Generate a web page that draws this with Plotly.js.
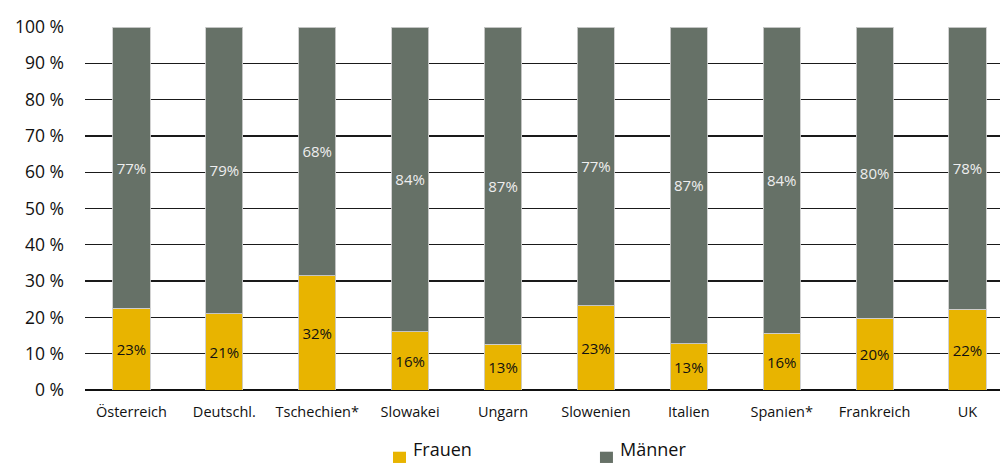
<!DOCTYPE html>
<html>
<head>
<meta charset="utf-8">
<script src="https://cdn.plot.ly/plotly-3.0.1.min.js"></script>
<style>html,body{margin:0;padding:0;background:#fff;}#chart{width:1000px;height:463px;}</style>
</head>
<body>
<div id="chart"></div>
<script>
const categories = ["Österreich", "Deutschl.", "Tschechien*", "Slowakei", "Ungarn", "Slowenien", "Italien", "Spanien*", "Frankreich", "UK"];
const frauen = [22.5, 21, 31.5, 16, 12.6, 23.2, 12.7, 15.7, 19.8, 22.2];
const maenner = [77.5, 79, 68.5, 84, 87.4, 76.8, 87.3, 84.3, 80.2, 77.8];
const frauenLabels = ["23%", "21%", "32%", "16%", "13%", "23%", "13%", "16%", "20%", "22%"];
const maennerLabels = ["77%", "79%", "68%", "84%", "87%", "77%", "87%", "84%", "80%", "78%"];
const yTicks = [0, 10, 20, 30, 40, 50, 60, 70, 80, 90, 100];
const yTickText = ["0 %", "10 %", "20 %", "30 %", "40 %", "50 %", "60 %", "70 %", "80 %", "90 %", "100 %"];
const seriesNames = ["Frauen", "Männer"];

const FONT = "Open Sans, DejaVu Sans, sans-serif";
const colF = "#E8B400";
const colM = "#667167";

const traces = [
  {type: "bar", name: seriesNames[0], x: categories, y: frauen, text: frauenLabels,
   textposition: "inside", insidetextanchor: "middle", textangle: 0,
   textfont: {family: FONT, size: 15, color: "#111"},
   marker: {color: colF, line: {color: "rgba(205,205,205,0.9)", width: 1}},
   hoverinfo: "x+y", showlegend: false},
  {type: "bar", name: seriesNames[1], x: categories, y: maenner, text: maennerLabels,
   textposition: "inside", insidetextanchor: "middle", textangle: 0,
   textfont: {family: FONT, size: 15, color: "#eeeeee"},
   marker: {color: colM, line: {color: "rgba(205,205,205,0.9)", width: 1}},
   hoverinfo: "x+y", showlegend: false}
];

const layout = {
  width: 1000, height: 463,
  margin: {l: 85, r: 0, t: 27, b: 73},
  barmode: "stack", bargap: 0.6,
  paper_bgcolor: "#fff", plot_bgcolor: "#fff",
  font: {family: FONT, color: "#111"},
  xaxis: {range: [-0.5, 9.35], showgrid: false, showline: false, ticks: "",
          tickfont: {family: FONT, size: 14.5, color: "#111"}, ticklabelstandoff: 11, fixedrange: true},
  yaxis: {range: [0, 100], tickmode: "array", tickvals: yTicks, ticktext: yTickText, showgrid: true,
          gridcolor: "#1a1a1a", gridwidth: 1.3, zeroline: true, zerolinecolor: "#111", zerolinewidth: 1.6,
          ticks: "", tickfont: {family: FONT, size: 17.5, color: "#111"}, ticklabelstandoff: 20, fixedrange: true},
  shapes: [
    {type: "rect", xref: "paper", yref: "paper", x0: 0.3366, x1: 0.3508, y0: -0.17, y1: -0.201, fillcolor: colF, line: {width: 0}},
    {type: "rect", xref: "paper", yref: "paper", x0: 0.5628, x1: 0.577, y0: -0.17, y1: -0.201, fillcolor: colM, line: {width: 0}}
  ],
  annotations: [
    {xref: "paper", yref: "paper", x: 0.3563, y: -0.201, xanchor: "left", yanchor: "bottom", showarrow: false,
     text: seriesNames[0], font: {family: FONT, size: 18, color: "#111"}},
    {xref: "paper", yref: "paper", x: 0.5825, y: -0.201, xanchor: "left", yanchor: "bottom", showarrow: false,
     text: seriesNames[1], font: {family: FONT, size: 18, color: "#111"}}
  ]
};

Plotly.newPlot("chart", traces, layout, {displayModeBar: false, staticPlot: true});
</script>
</body>
</html>
